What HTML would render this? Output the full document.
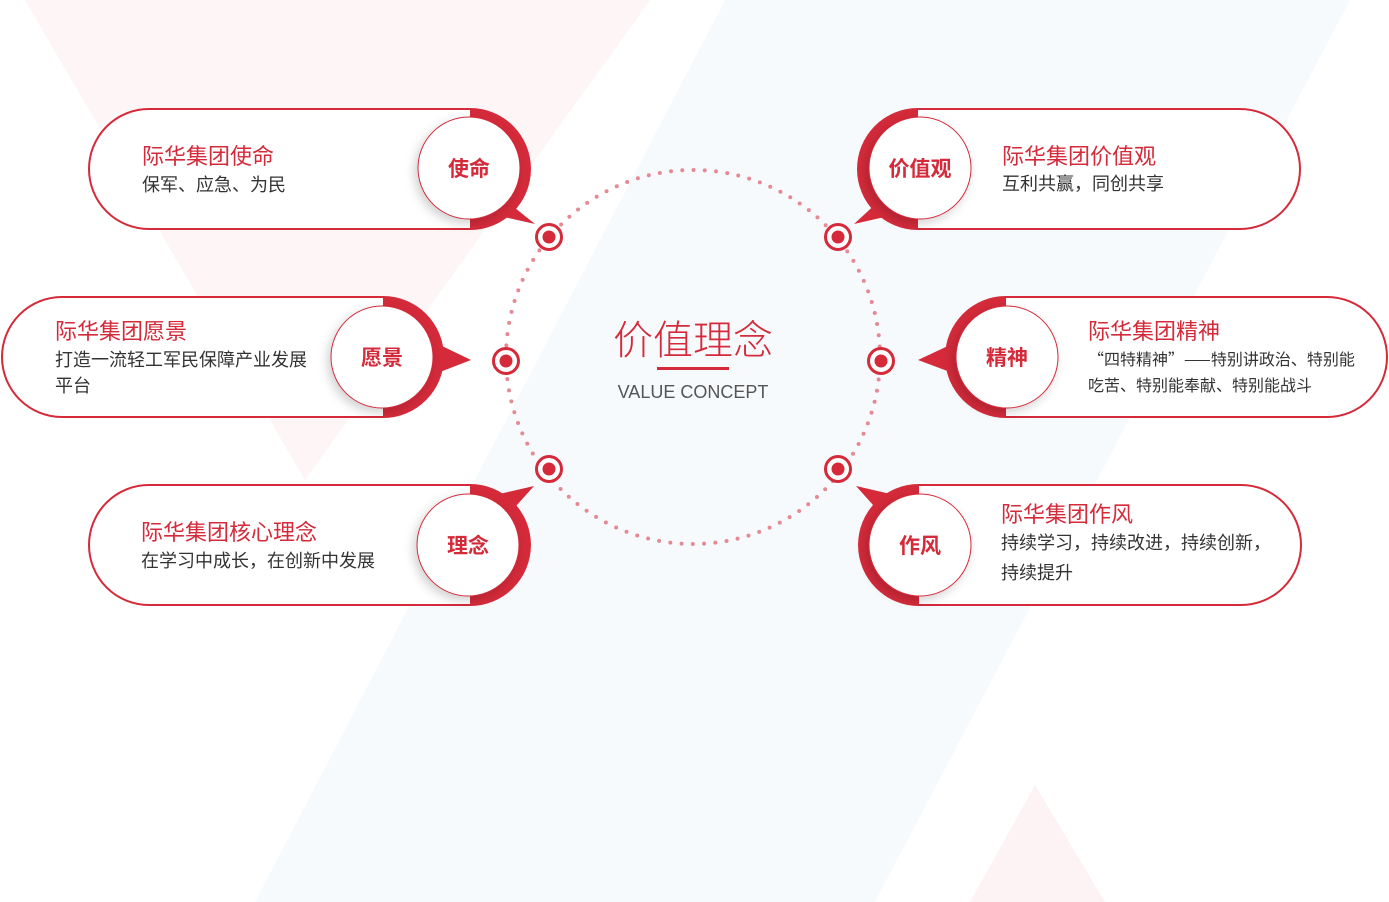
<!DOCTYPE html>
<html><head><meta charset="utf-8"><style>
html,body{margin:0;padding:0;background:#fff;}
svg{display:block;font-family:"Liberation Sans","Noto Sans CJK SC",sans-serif;}
.cj{font-family:"Noto Sans CJK SC",sans-serif;}
</style></head><body>
<svg width="1389" height="902" viewBox="0 0 1389 902" xmlns="http://www.w3.org/2000/svg">
<defs>
<filter id="sh" x="-30%" y="-30%" width="160%" height="160%"><feDropShadow dx="-3" dy="4" stdDeviation="5" flood-color="#000" flood-opacity="0.18"/></filter>
</defs>
<polygon points="25,0 650,0 305,480" fill="#fdf5f6"/>
<polygon points="725,0 1350,0 875,902 255,902" fill="#f7fafd"/>
<polygon points="1035,785 970,902 1105,902" fill="#fdf3f5"/>

<circle cx="693" cy="357" r="187" fill="none" stroke="#e58a95" stroke-width="4" stroke-linecap="round" stroke-dasharray="0 11.3"/>

<g fill="#fff" stroke="#d42a3a" stroke-width="3">
<circle cx="549" cy="237" r="12.5"/><circle cx="506" cy="361" r="12.5"/><circle cx="549" cy="469" r="12.5"/>
<circle cx="838" cy="237" r="12.5"/><circle cx="881" cy="361" r="12.5"/><circle cx="838" cy="469" r="12.5"/>
</g>
<g fill="#d42a3a">
<circle cx="549" cy="237" r="6.5"/><circle cx="506" cy="361" r="6.5"/><circle cx="549" cy="469" r="6.5"/>
<circle cx="838" cy="237" r="6.5"/><circle cx="881" cy="361" r="6.5"/><circle cx="838" cy="469" r="6.5"/>
</g>

<g fill="#fff" stroke="#d42a3a" stroke-width="2">
<path d="M470,109 H149 A60,60 0 0 0 149,229 H470"/>
<path d="M383,297 H62 A60,60 0 0 0 62,417 H383"/>
<path d="M470,485 H149 A60,60 0 0 0 149,605 H470"/>
<path d="M918,109 H1240 A60,60 0 0 1 1240,229 H918"/>
<path d="M1006,297 H1327 A60,60 0 0 1 1327,417 H1006"/>
<path d="M919,485 H1241 A60,60 0 0 1 1241,605 H919"/>
</g>
<g fill="#d42a3a">
<path d="M470,108 A61,61 0 0 1 470,230 Z"/><polygon points="505,200 535,224 495,215"/>
<path d="M383,296 A61,61 0 0 1 383,418 Z"/><polygon points="440,345 471,360 440,372"/>
<path d="M470,484 A61,61 0 0 1 470,606 Z"/><polygon points="495,495 534,486 508,515"/>
<path d="M918,108 A61,61 0 0 0 918,230 Z"/><polygon points="880,200 854,224 893,215"/>
<path d="M1006,296 A61,61 0 0 0 1006,418 Z"/><polygon points="950,345 918,360 950,372"/>
<path d="M919,484 A61,61 0 0 0 919,606 Z"/><polygon points="895,495 856,486 882,515"/>
</g>
<g fill="#fff" stroke="#d42a3a" stroke-width="1" filter="url(#sh)">
<circle cx="469" cy="168" r="51"/>
<circle cx="382" cy="357" r="51"/>
<circle cx="468" cy="545" r="51"/>
<circle cx="920" cy="168" r="51"/>
<circle cx="1007" cy="357" r="51"/>
<circle cx="920" cy="545" r="51"/>
</g>
<g fill="#d42a3a" font-size="21" font-weight="bold" text-anchor="middle">
<text x="469" y="176">使命</text>
<text x="382" y="365">愿景</text>
<text x="468" y="553">理念</text>
<text x="920" y="176">价值观</text>
<text x="1007" y="365">精神</text>
<text x="920" y="553">作风</text>
</g>
<g fill="#d42a3a" font-size="22">
<text x="142" y="164">际华集团使命</text>
<text x="55" y="339">际华集团愿景</text>
<text x="141" y="540">际华集团核心理念</text>
<text x="1002" y="164">际华集团价值观</text>
<text x="1088" y="339">际华集团精神</text>
<text x="1001" y="522">际华集团作风</text>
</g>
<g fill="#333" font-size="18">
<text x="142" y="191">保军、应急、为民</text>
<text x="55" y="366">打造一流轻工军民保障产业发展</text>
<text x="55" y="392">平台</text>
<text x="141" y="567">在学习中成长，在创新中发展</text>
<text x="1002" y="190">互利共赢，同创共享</text>
<text x="1001" y="549">持续学习，持续改进，持续创新，</text>
<text x="1001" y="579">持续提升</text>
</g>
<g fill="#333" font-size="16" class="cj">
<text x="1088" y="365">“四特精神”——特别讲政治、特别能</text>
<text x="1088" y="391">吃苦、特别能奉献、特别能战斗</text>
</g>
<text x="693" y="354" text-anchor="middle" font-size="40" fill="#d42a3a" font-weight="300">价值理念</text>
<rect x="657" y="367" width="72" height="3" fill="#d42a3a"/>
<text x="693" y="398" text-anchor="middle" font-size="18" fill="#555">VALUE CONCEPT</text>
</svg>
</body></html>
